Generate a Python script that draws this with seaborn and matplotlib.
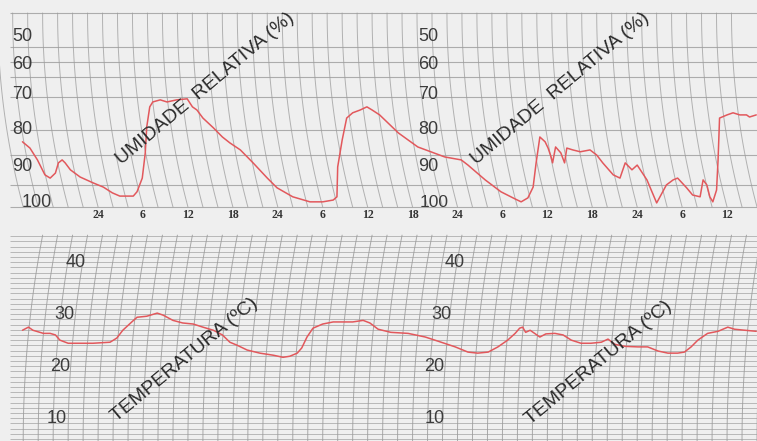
import numpy as np
import pandas as pd
import matplotlib.pyplot as plt
import seaborn as sns

# time in hours, 0 = first midnight mark ("24") printed on the chart
hum_time = [-10.1, -9.1, -8.1, -7.1, -6.4, -5.7, -5.3, -4.8, -4.4, -3.7, -2.4, -0.7, 0.7, 1.9,
            2.9, 4.7, 5.2, 5.9, 6.3, 6.5, 6.9, 7.3, 8.3, 9.2, 10.5, 11.9, 12.6, 13.2, 14.0,
            15.4, 16.6, 17.6, 19.0, 20.7, 22.6, 23.9, 26.0, 28.3, 30.0, 31.4, 31.9, 32.0,
            32.6, 33.2, 34.0, 35.0, 35.9, 36.6, 37.6, 40.1, 42.7, 46.3, 48.5, 49.4, 51.7,
            53.8, 55.7, 56.5, 57.4, 58.1, 58.5, 59.0, 59.7, 60.1, 60.5, 60.7, 61.1, 61.8,
            62.3, 62.6, 63.4, 64.4, 65.7, 66.6, 67.4, 68.8, 69.7, 70.4, 71.3, 72.0, 73.3,
            74.6, 75.9, 76.8, 77.4, 78.6, 79.4, 80.4, 80.8, 81.3, 81.7, 82.1, 82.6, 82.8,
            83.0, 84.0, 84.8, 85.7, 86.6, 87.0, 87.9]
hum_value = [83.2, 84.9, 88.1, 92.2, 93.1, 91.7, 88.9, 88.1, 88.9, 90.8, 92.8, 94.4, 95.6, 97.2,
             98.1, 98.1, 96.9, 93.1, 86.2, 79.1, 73.4, 72.0, 71.4, 72.0, 71.4, 71.1, 73.4, 74.3,
             76.6, 79.4, 81.9, 83.5, 85.4, 88.9, 93.1, 95.8, 98.3, 99.7, 99.7, 99.2, 98.3, 90.0,
             82.7, 76.6, 75.1, 74.3, 73.4, 74.3, 75.7, 80.8, 84.6, 87.3, 88.1, 89.5, 93.6,
             96.9, 98.9, 99.7, 98.6, 95.6, 88.9, 81.9, 83.2, 84.9, 87.3, 88.9, 84.6, 86.2,
             88.9, 84.9, 85.4, 85.9, 85.4, 86.8, 88.9, 92.2, 93.1, 88.9, 90.8, 89.5, 93.6,
             100.0, 95.0, 93.6, 93.1, 95.8, 97.8, 98.3, 93.6, 95.0, 98.3, 99.7, 96.4, 88.1,
             76.6, 75.7, 75.1, 75.7, 75.7, 76.3, 75.7]

temp_time = [-10.1, -9.3, -8.7, -7.3, -6.4, -5.7, -5.1, -4.0, -2.4, -0.7, 1.6, 2.5, 3.3, 4.5,
             5.2, 6.5, 7.9, 8.7, 10.0, 11.3, 12.7, 14.0, 15.4, 16.6, 17.6, 18.6, 19.9, 21.6,
             23.4, 24.7, 25.6, 26.6, 27.2, 27.9, 28.7, 30.0, 31.4, 32.7, 34.0, 35.4, 36.3,
             37.4, 39.1, 41.4, 43.7, 45.4, 47.7, 49.4, 50.7, 52.1, 53.4, 54.7, 55.7, 56.3,
             56.7, 57.1, 57.7, 58.3, 59.0, 59.8, 61.0, 62.1, 63.2, 64.5, 65.8, 67.2, 68.1,
             69.0, 70.4, 72.1, 73.4, 74.8, 76.1, 77.4, 78.3, 79.2, 80.1, 81.4, 82.8, 84.1,
             85.0, 86.4, 87.9]
temp_value = [26.9, 27.5, 26.9, 26.3, 26.3, 26.0, 25.0, 24.4, 24.4, 24.4, 24.6, 25.4, 26.9, 28.5,
              29.4, 29.6, 30.2, 29.8, 28.8, 28.3, 28.1, 27.5, 26.9, 26.0, 24.6, 24.0, 23.1, 22.5,
              22.1, 21.7, 21.9, 22.5, 23.5, 25.6, 27.3, 28.1, 28.5, 28.5, 28.5, 28.8, 28.3,
              27.1, 26.5, 26.3, 25.6, 24.8, 23.7, 22.7, 22.5, 22.7, 23.7, 25.0, 26.3, 27.3,
              27.5, 26.5, 26.9, 26.3, 25.6, 26.2, 26.3, 26.0, 25.0, 24.4, 24.4, 24.6, 25.2,
              24.2, 23.8, 23.7, 23.7, 22.9, 22.5, 22.5, 22.7, 23.7, 25.0, 26.3, 26.7, 27.5,
              27.1, 26.9, 26.7]

hour_ticks = [0, 6, 12, 18, 24, 30, 36, 42, 48, 54, 60, 66, 72, 78, 84]
hour_labels = ["24", "6", "12", "18", "24", "6", "12", "18", "24", "6", "12", "18", "24", "6", "12"]

hum_labels = [50, 60, 70, 80, 90, 100]
temp_labels = [40, 30, 20, 10]

# hygrograph paper: relative humidity is not printed on a linear scale
HUM_LEVELS = [40, 50, 60, 70, 80, 90, 100, 110]
HUM_PAPER = [9, 37, 65, 95, 130, 167, 203, 239]
HUM_GRID = [41.4, 53.6, 58.9, 64, 70.6, 80, 86.8, 95, 101]

PX_HOUR = 7.49
PX_DEG = 5.2
INK = "#e2585c"
GRID = "#9c9c9c"
PAPER = "#efefef"


def hum_fwd(h):
    return np.interp(h, HUM_LEVELS, HUM_PAPER)


def hum_inv(p):
    return np.interp(p, HUM_PAPER, HUM_LEVELS)


sns.set_style("white")
plt.rcParams["font.family"] = ["Liberation Sans", "DejaVu Sans"]

fig = plt.figure(figsize=(7.57, 4.41), dpi=100, facecolor=PAPER)
ax_top = fig.add_axes([0, 1 - 222 / 441, 1, 212 / 441], facecolor=PAPER)
ax_bot = fig.add_axes([0, 0, 1, 209 / 441], facecolor=PAPER)

# ---- humidity panel
ax_top.set_yscale("function", functions=(hum_fwd, hum_inv))
ax_top.set_xlim(-13.1, 88.0)
ax_top.set_ylim(105.3, 40.36)

for h in HUM_GRID:
    ax_top.hlines(h, -11.8, 88, color=GRID, lw=0.8, alpha=0.8, zorder=1)

R = 750.0
paper = np.linspace(13, 207, 80)
shift = R - np.sqrt(R ** 2 - (paper - 13) ** 2)
for t0 in np.arange(-10, 90, 2):
    tt = t0 + (shift - shift[-1]) / PX_HOUR
    ax_top.plot(tt, hum_inv(paper), color=GRID, lw=0.7, alpha=0.75, zorder=1)

hum_df = pd.DataFrame({"hora": hum_time, "umidade": hum_value})
sns.lineplot(data=hum_df, x="hora", y="umidade", ax=ax_top, color=INK, lw=1.1,
             sort=False, estimator=None, zorder=3)

for t, lab in zip(hour_ticks, hour_labels):
    ax_top.text(t, 103.4, lab, ha="center", va="center", fontsize=8.5, weight="bold",
                family="Liberation Serif", color="#333333")

left_x = [-11.5, -11.5, -11.5, -11.5, -11.5, -10.2]
right_x = [42.8, 42.8, 42.8, 42.8, 42.8, 42.9]
for h, xl, xr in zip(hum_labels, left_x, right_x):
    ax_top.text(xl, h, str(h), ha="left", va="center", fontsize=13, color="#3c3c3c")
    ax_top.text(xr, h, str(h), ha="left", va="center", fontsize=13 if h < 100 else 12.5,
                color="#3c3c3c")

for tc in [14.3, 61.7]:
    ax_top.text(tc, 67.8, "UMIDADE  RELATIVA (%)", rotation=40, rotation_mode="anchor",
                ha="center", va="center", fontsize=14, color="#2a2a2a", zorder=4)

# ---- temperature panel
ax_bot.set_xlim(-13.1, 88.0)
ax_bot.set_ylim(5.6, 45.8)

for tdeg in np.arange(6, 46, 1):
    ax_bot.hlines(tdeg, -11.8, 88, color="#a4a4a4", lw=0.6, alpha=0.85, zorder=1)

R2 = 1100.0
temps = np.linspace(5.6, 45.2, 80)
depth = (temps - 5.6) * PX_DEG
shift2 = R2 - np.sqrt(R2 ** 2 - depth ** 2)
for t0 in np.arange(-10, 90, 2):
    ax_bot.plot(t0 + shift2 / PX_HOUR, temps, color=GRID, lw=0.7, alpha=0.85, zorder=1)

temp_df = pd.DataFrame({"hora": temp_time, "temperatura": temp_value})
sns.lineplot(data=temp_df, x="hora", y="temperatura", ax=ax_bot, color=INK, lw=1.1,
             sort=False, estimator=None, zorder=3)

left_tx = [-3.0, -4.5, -5.0, -5.5]
right_tx = [47.6, 45.9, 44.9, 44.9]
for tv, xl, xr in zip(temp_labels, left_tx, right_tx):
    ax_bot.text(xl, tv, str(tv), ha="center", va="center", fontsize=13, color="#3c3c3c")
    ax_bot.text(xr, tv, str(tv), ha="center", va="center", fontsize=13, color="#3c3c3c")

for tc, tv in [(11.6, 21.2), (66.8, 20.6)]:
    ax_bot.text(tc, tv, "TEMPERATURA (ºC)", rotation=39.5, rotation_mode="anchor",
                ha="center", va="center", fontsize=14, color="#2a2a2a", zorder=4)

for ax in (ax_top, ax_bot):
    ax.set_xlabel("")
    ax.set_ylabel("")
    ax.set_xticks([])
    ax.set_yticks([])
    ax.minorticks_off()
    sns.despine(ax=ax, left=True, bottom=True)

fig.savefig("out.png", dpi=100, facecolor=PAPER)
